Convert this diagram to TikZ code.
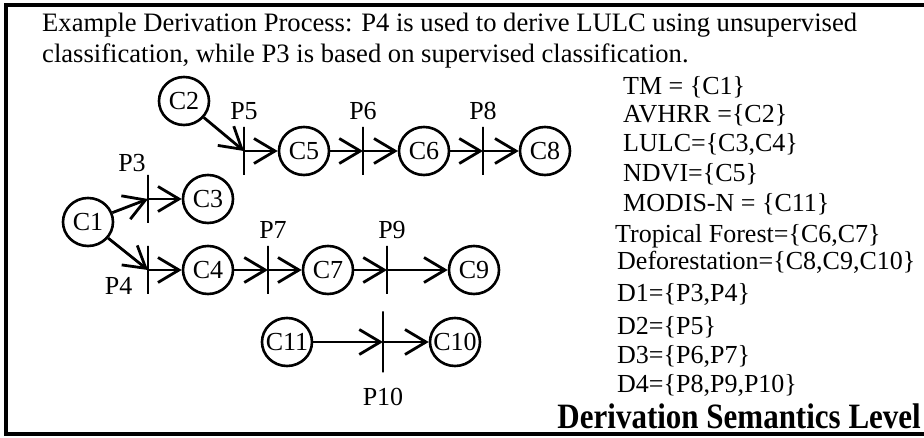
\documentclass[tikz,border=0pt]{standalone}
\usepackage{fontspec}
\setmainfont{Liberation Serif}
\usepackage{graphicx}
\usepackage{tikz}
\usetikzlibrary{arrows.meta,positioning,shapes.geometric}
\tikzset{
  >={Straight Barb[length=21pt,width=25pt]},
  state/.style={ellipse,draw,line width=2.6pt,minimum width=50pt,minimum height=48pt,inner sep=0pt},
  bar/.style={draw,line width=2.8pt,minimum width=0pt,minimum height=48pt,inner sep=0pt},
  flow/.style={->,line width=2.8pt},
  lbl/.style={inner sep=1pt,label distance=5pt},
  txt/.style={anchor=base west,inner sep=0pt},
}
\newcommand{\cid}[1]{\makebox[0pt]{#1}}

\begin{document}
\begin{tikzpicture}[x=1pt,y=-1pt,font=\fontsize{26}{30}\selectfont]
  \useasboundingbox (0,0) rectangle (924,438);
  \draw[line width=4pt] (6,5) rectangle (934,434);

  % caption
  \node[txt,font=\fontsize{26.6}{30}\selectfont] (title1) at (42,32)
    {Example Derivation Process: P4 is used to derive LULC using unsupervised};
  \node[txt,font=\fontsize{26.6}{30}\selectfont] (title2) at (42,63)
    {classification, while P3 is based on supervised classification.};

  % components
  \node[state] (c1) at (88,222) {\cid{C1}};
  \node[state] (c2) at (184,101) {\cid{C2}};
  \node[state] (c3) at (208,199) {\cid{C3}};
  \node[state] (c4) at (208,270) {\cid{C4}};
  \node[state] (c5) at (304,151) {\cid{C5}};
  \node[state] (c6) at (424,151) {\cid{C6}};
  \node[state] (c8) at (545,151) {\cid{C8}};
  \node[state] (c7) at (328,270) {\cid{C7}};
  \node[state] (c9) at (474,270) {\cid{C9}};
  \node[state] (c11) at (287,342) {\cid{C11}};
  \node[state] (c10) at (455,342) {\cid{C10}};

  % processes
  \node[bar,label={[lbl,label distance=1pt,xshift=-16pt]above:P3}] (p3) at (148,199) {};
  \node[bar,label={[lbl,label distance=13pt,yshift=-16pt]left:P4}] (p4) at (148,270) {};
  \node[bar,label={[lbl]above:P5}] (p5) at (244,151) {};
  \node[bar,label={[lbl]above:P6}] (p6) at (363,151) {};
  \node[bar,label={[lbl]above:P8}] (p8) at (483,151) {};
  \node[bar,label={[lbl,xshift=5pt]above:P7}] (p7) at (268,270) {};
  \node[bar,label={[lbl,xshift=5pt]above:P9}] (p9) at (387,270) {};
  \node[bar,minimum height=61pt,label={[lbl,label distance=13pt]below:P10}] (p10) at (383,342) {};

  % derivations
  \draw[flow] (c1) -- (p3.center);
  \draw[flow] (p3.center) -- (c3);
  \draw[flow] (c1) -- (p4.center);
  \draw[flow] (p4.center) -- (c4);
  \draw[flow] (c2) -- (p5.center);
  \draw[flow] (p5.center) -- (c5);
  \draw[flow] (c5) -- (p6.center);
  \draw[flow] (p6.center) -- (c6);
  \draw[flow] (c6) -- (p8.center);
  \draw[flow] (p8.center) -- (c8);
  \draw[flow] (c4) -- (p7.center);
  \draw[flow] (p7.center) -- (c7);
  \draw[flow] (c7) -- (p9.center);
  \draw[flow] (p9.center) -- (c9);
  \draw[flow] (c11) -- (p10.center);
  \draw[flow] (p10.center) -- (c10);

  % semantics
  \node[txt] (tm) at (623,95) {TM = \{C1\}};
  \node[txt] (avhrr) at (623,123) {AVHRR =\{C2\}};
  \node[txt] (lulc) at (623,152) {LULC=\{C3,C4\}};
  \node[txt] (ndvi) at (623,182) {NDVI=\{C5\}};
  \node[txt] (modis) at (623,212) {MODIS-N = \{C11\}};
  \node[txt] (forest) at (615,243) {Tropical Forest=\{C6,C7\}};
  \node[txt] (defor) at (617,270) {Deforestation=\{C8,C9,C10\}};
  \node[txt] (d1) at (617,302) {D1=\{P3,P4\}};
  \node[txt] (d2) at (617,335) {D2=\{P5\}};
  \node[txt] (d3) at (617,363) {D3=\{P6,P7\}};
  \node[txt] (d4) at (617,392) {D4=\{P8,P9,P10\}};
  \node[anchor=base east,inner sep=0pt,font=\fontsize{31}{36}\selectfont\bfseries] (level)
    at (921,428) {\scalebox{1}[1.15]{Derivation Semantics Level}};
\end{tikzpicture}
\end{document}
